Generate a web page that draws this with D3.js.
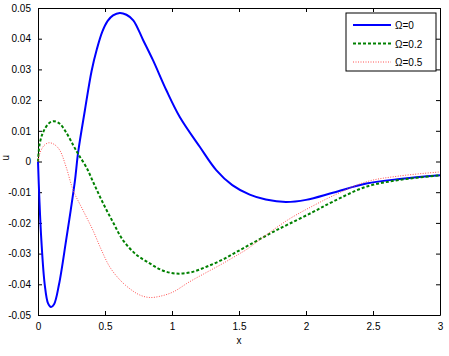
<!DOCTYPE html>
<html>
<head>
<meta charset="utf-8">
<script src="https://cdn.jsdelivr.net/npm/d3@7"></script>
<style>
  body { margin: 0; background: #fff; }
  svg { display: block; font-family: "Liberation Sans", Arial, sans-serif; }
  .axis path, .axis line { stroke: #000; }
  .axis text { font-size: 10px; fill: #000; }
</style>
</head>
<body>
<svg class="chart"></svg>
<script>
// x positions and values
const xBlue = [0, 0.01, 0.025, 0.05, 0.075, 0.097, 0.12, 0.157, 0.21, 0.244, 0.275, 0.30, 0.35, 0.40, 0.44, 0.48, 0.52, 0.56, 0.61, 0.66, 0.711, 0.785, 0.858, 0.958, 1.058, 1.207, 1.33, 1.45, 1.58, 1.7, 1.85, 2.0, 2.2, 2.45, 2.7, 3.0];
const yBlue = [0, -0.012, -0.0256, -0.04, -0.0462, -0.0474, -0.0465, -0.04, -0.0256, -0.0159, -0.0065, 0.0031, 0.0167, 0.0295, 0.0367, 0.0423, 0.0458, 0.0476, 0.0484, 0.0478, 0.046, 0.0395, 0.033, 0.0232, 0.0145, 0.0048, -0.0028, -0.0077, -0.0108, -0.0124, -0.0132, -0.0125, -0.0102, -0.0072, -0.0057, -0.0045];

const xGreen = [0, 0.013, 0.04, 0.08, 0.117, 0.16, 0.21, 0.263, 0.30, 0.36, 0.42, 0.487, 0.56, 0.634, 0.73, 0.834, 0.93, 1.03, 1.14, 1.257, 1.38, 1.505, 1.63, 1.756, 1.88, 2.05, 2.2, 2.45, 2.7, 3.0];
const yGreen = [0, 0.0059, 0.0097, 0.0124, 0.0131, 0.0124, 0.0095, 0.0053, 0.0024, -0.0018, -0.0075, -0.0137, -0.0198, -0.0256, -0.0302, -0.0332, -0.0355, -0.0365, -0.0361, -0.0343, -0.0319, -0.0289, -0.0259, -0.0229, -0.0202, -0.0165, -0.0131, -0.0082, -0.006, -0.0045];

const xRed = [0, 0.013, 0.045, 0.08, 0.12, 0.162, 0.21, 0.263, 0.336, 0.41, 0.47, 0.535, 0.61, 0.684, 0.76, 0.834, 0.92, 1.008, 1.13, 1.25, 1.38, 1.505, 1.555, 1.7, 1.88, 2.05, 2.2, 2.45, 2.7, 3.0];
const yRed = [0, 0.0026, 0.0052, 0.0061, 0.0056, 0.0037, -0.0018, -0.0094, -0.0159, -0.0224, -0.0285, -0.0343, -0.0385, -0.0414, -0.0435, -0.0443, -0.0438, -0.0425, -0.0392, -0.0363, -0.0332, -0.030, -0.0287, -0.024, -0.0186, -0.0145, -0.0112, -0.0066, -0.0047, -0.0034];

const seriesNames = ["\u03A9=0", "\u03A9=0.2", "\u03A9=0.5"];
const xTicks = [0, 0.5, 1, 1.5, 2, 2.5, 3];
const yTicks = [-0.05, -0.04, -0.03, -0.02, -0.01, 0, 0.01, 0.02, 0.03, 0.04, 0.05];

const
  margin = {top: 8, right: 9, bottom: 41, left: 38},
  widthWithMargins = 449,
  heightWithMargins = 356,
  width = widthWithMargins - margin.left - margin.right,
  height = heightWithMargins - margin.top - margin.bottom;

const xScale = d3.scaleLinear().domain([0, 3]).range([0, width]);
const yScale = d3.scaleLinear().domain([-0.05, 0.05]).range([height, 0]);

const svg = d3.select(".chart")
  .attr("width", widthWithMargins)
  .attr("height", heightWithMargins);

const g = svg.append("g")
  .attr("transform", `translate(${margin.left},${margin.top})`);

const fmt = d => String(+d.toFixed(2));

g.append("g").attr("class", "axis")
  .attr("transform", `translate(0,${height})`)
  .call(d3.axisBottom(xScale).tickValues(xTicks).tickFormat(fmt).tickSizeInner(-4).tickSizeOuter(0).tickPadding(8));
g.append("g").attr("class", "axis")
  .call(d3.axisTop(xScale).tickValues(xTicks).tickFormat("").tickSizeInner(-4).tickSizeOuter(0));
g.append("g").attr("class", "axis")
  .call(d3.axisLeft(yScale).tickValues(yTicks).tickFormat(fmt).tickSizeInner(-4).tickSizeOuter(0).tickPadding(7));
g.append("g").attr("class", "axis")
  .attr("transform", `translate(${width},0)`)
  .call(d3.axisRight(yScale).tickValues(yTicks).tickFormat("").tickSizeInner(-4).tickSizeOuter(0));

const series = [
  {name: seriesNames[0], xs: xBlue, ys: yBlue, color: "#0000ff", w: 2, dash: null},
  {name: seriesNames[1], xs: xGreen, ys: yGreen, color: "#008000", w: 2, dash: "3,2"},
  {name: seriesNames[2], xs: xRed, ys: yRed, color: "#ff5050", w: 1, dash: "1,1.5"}
];

const line = d3.line()
  .x(d => xScale(d[0]))
  .y(d => yScale(d[1]))
  .curve(d3.curveCatmullRom.alpha(0.5));

g.selectAll(".series")
  .data(series)
  .enter()
  .append("path")
    .attr("class", "series")
    .attr("fill", "none")
    .attr("stroke", d => d.color)
    .attr("stroke-width", d => d.w)
    .attr("stroke-dasharray", d => d.dash)
    .attr("d", d => line(d.xs.map((x, i) => [x, d.ys[i]])));

// labels
svg.append("text")
  .attr("x", margin.left + xScale(1.5))
  .attr("y", 344)
  .attr("text-anchor", "middle")
  .attr("font-size", 10)
  .text("x");

svg.append("text")
  .attr("transform", `translate(9,${margin.top + yScale(0.0012)}) rotate(-90)`)
  .attr("text-anchor", "middle")
  .attr("font-size", 10)
  .text("u");

// legend
const legend = svg.append("g").attr("transform", "translate(346,13)");
legend.append("rect")
  .attr("width", 90).attr("height", 58)
  .attr("fill", "#fff").attr("stroke", "#000");
const items = legend.selectAll(".item")
  .data(series)
  .enter()
  .append("g")
    .attr("transform", (d, i) => `translate(0,${12 + i * 18.5})`);
items.append("line")
  .attr("x1", 7).attr("x2", 45)
  .attr("stroke", d => d.color)
  .attr("stroke-width", d => d.w)
  .attr("stroke-dasharray", d => d.dash);
items.append("text")
  .attr("x", 49).attr("y", 4)
  .attr("font-size", 10)
  .text(d => d.name);
</script>
</body>
</html>
